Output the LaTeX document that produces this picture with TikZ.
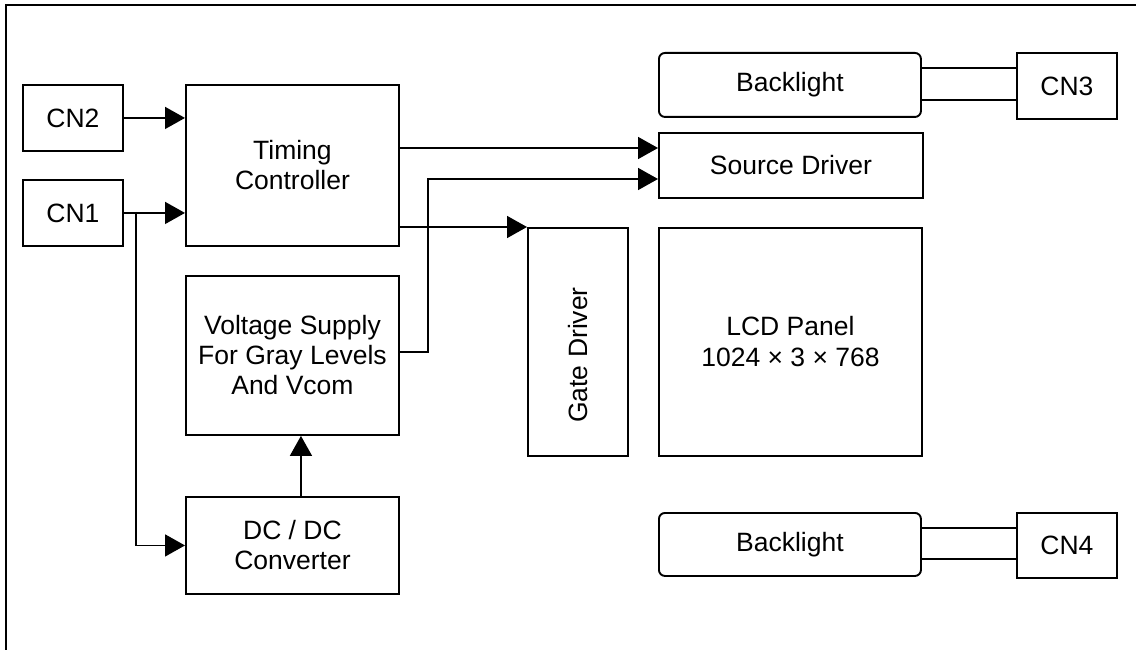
\documentclass[tikz,border=0pt]{standalone}
\usepackage{fontspec}
\setmainfont{Liberation Sans}
\usetikzlibrary{arrows.meta}
\begin{document}
\begin{tikzpicture}[x=1pt,y=-1pt,
  box/.style={draw, line width=1.9pt, inner sep=0pt, anchor=north west, align=center, font=\fontsize{26.5}{30}\selectfont},
  rbox/.style={box, rounded corners=6pt},
  lbl/.style={inner sep=0pt, align=center, font=\fontsize{26.5}{30}\selectfont},
  conn/.style={line width=1.6pt},
  link/.style={line width=1.9pt},
  arr/.style={conn, -{Triangle[length=20pt,width=22pt]}},
]
\useasboundingbox (0,0) rectangle (1136,650);
\draw[line width=2.4pt] (6,650) -- (6,5) -- (1136,5);

\node[box, minimum width=100pt, minimum height=66pt] (cn2) at (22,84) {CN2};
\node[box, minimum width=100pt, minimum height=66pt] (cn1) at (22,179) {CN1};
\node[box, minimum width=213pt, minimum height=161pt] (tc) at (185,84) {Timing\\Controller};
\node[box, minimum width=213pt, minimum height=159pt] (vs) at (185,275) {Voltage Supply\\For Gray Levels\\And Vcom};
\node[box, minimum width=213pt, minimum height=97pt] (dc) at (185,496) {DC / DC\\Converter};
\node[box, minimum width=100pt, minimum height=228pt] (gd) at (527,227) {};
\node[lbl, rotate=90] (gdl) at (578,355) {Gate Driver};
\node[box, minimum width=263pt, minimum height=228pt, font=\fontsize{26.5}{31}\selectfont] (lcd) at (658,227) {LCD Panel\\1024 × 3 × 768};
\node[box, minimum width=264pt, minimum height=65pt] (sd) at (658,132) {Source Driver};
\node[rbox, minimum width=262pt, minimum height=64pt] (bl1) at (658,52) {Backlight};
\node[rbox, minimum width=262pt, minimum height=63pt] (bl2) at (658,512) {Backlight};
\node[box, minimum width=100pt, minimum height=66pt] (cn3) at (1016,52) {CN3};
\node[box, minimum width=100pt, minimum height=65pt] (cn4) at (1016,512) {CN4};

\draw[arr] (cn2.east) -- (cn2.east -| tc.west);
\draw[arr] (cn1.east) -- (cn1.east -| tc.west);
\coordinate (br) at (136,212);
\draw[arr] (br) |- (dc.west);
\draw[arr] ([xshift=8.5pt]dc.north) -- ([xshift=8.5pt]vs.south);
\draw[arr] (tc.east |- 0,148) -- (sd.west |- 0,148);
\draw[arr] (tc.east |- gd.north west) -- (gd.north west);
\draw[arr] (vs.east |- 0,352) -- (428,352) -- (428,179) -- (sd.west |- 0,179);

\draw[link] (bl1.east |- 0,68) -- (cn3.west |- 0,68);
\draw[link] (bl1.east |- 0,100) -- (cn3.west |- 0,100);
\draw[link] (bl2.east |- 0,528) -- (cn4.west |- 0,528);
\draw[link] (bl2.east |- 0,559) -- (cn4.west |- 0,559);
\end{tikzpicture}
\end{document}
